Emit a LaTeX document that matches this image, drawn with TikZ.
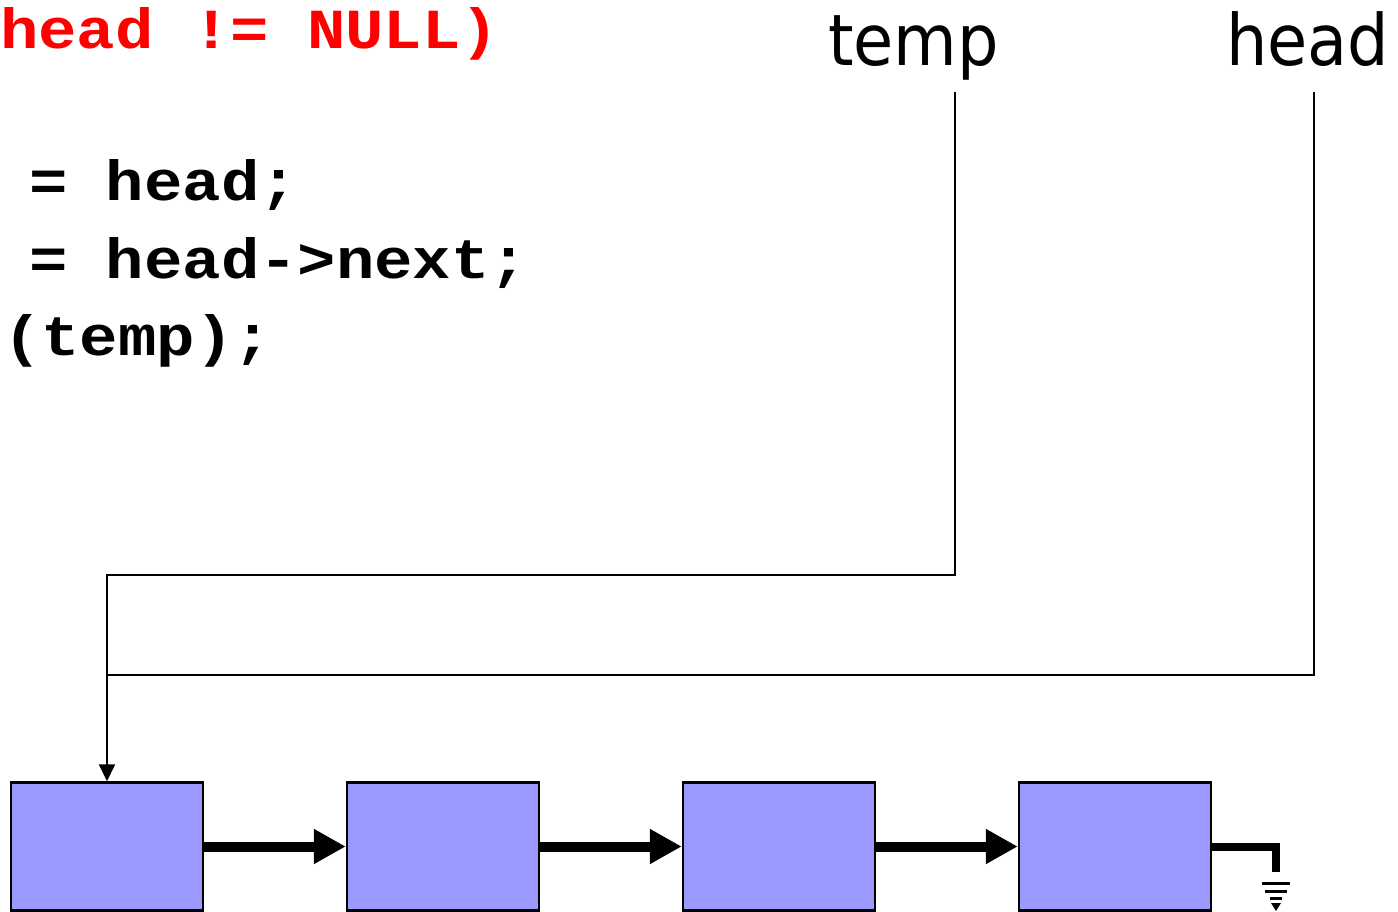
\documentclass[tikz,border=0pt]{standalone}
\usepackage{fontspec}
\usetikzlibrary{arrows.meta}
\newfontfamily\codefont[FakeStretch=1.13]{Liberation Mono}
\newfontfamily\labelfont[FakeStretch=0.92]{DejaVu Sans}
\definecolor{nodefill}{HTML}{9999FF}
\definecolor{codered}{HTML}{FF0000}
\tikzset{
  listbox/.style={draw=black, line width=2.5pt, fill=nodefill,
    minimum width=192pt, minimum height=128pt, inner sep=0pt},
  codeline/.style={anchor=base west, inner sep=0pt,
    font=\codefont\bfseries\fontsize{56.6}{60}\selectfont},
  varlabel/.style={anchor=base west, inner sep=0pt,
    font=\labelfont\fontsize{71}{71}\selectfont},
  nextptr/.style={line width=10pt, -{Triangle[length=32pt,width=33pt]}},
  varptr/.style={line width=2pt},
  varptrtip/.style={varptr, -{Triangle[length=17pt,width=16pt]}},
}
\begin{document}
\begin{tikzpicture}[x=1pt,y=-1pt]
\useasboundingbox (0,0) rectangle (1398,912);

% code fragment
\node[codeline, text=codered] (cond) at (0,49) {head != NULL)};
\node[codeline] (asg1) at (29,201) {= head;};
\node[codeline] (asg2) at (29,278) {= head->next;};
\node[codeline] (rel)  at (3,355) {(temp);};

% variable names
\node[varlabel] (tempname) at (828,66) {temp};
\node[varlabel] (headname) at (1226,66) {head};

% list nodes
\node[listbox] (b1) at (107,846.5) {};
\node[listbox] (b2) at (443,846.5) {};
\node[listbox] (b3) at (779,846.5) {};
\node[listbox] (b4) at (1115,846.5) {};

\draw[nextptr] (b1.east) -- (b2.west);
\draw[nextptr] (b2.east) -- (b3.west);
\draw[nextptr] (b3.east) -- (b4.west);

% pointer variables
\coordinate (tempfoot) at (955,92);
\coordinate (tempbend) at (107,575);
\coordinate (headfoot) at (1314,92);
\coordinate (headjoin) at (107,675);
\draw[varptrtip] (tempfoot) |- (tempbend) -- (b1.north);
\draw[varptr] (headfoot) |- (headjoin);

% NULL terminator with ground symbol
\coordinate (gnd) at (1276,872);
\draw[line width=8pt, line join=miter] (b4.east) -| (gnd);
\draw[line width=3pt] (1262,883) -- (1290,883)
                      (1265,891) -- (1287,891)
                      (1270,898) -- (1282,898);
\fill (1271,903) -- (1281,903) -- (1276,911) -- cycle;
\end{tikzpicture}
\end{document}
